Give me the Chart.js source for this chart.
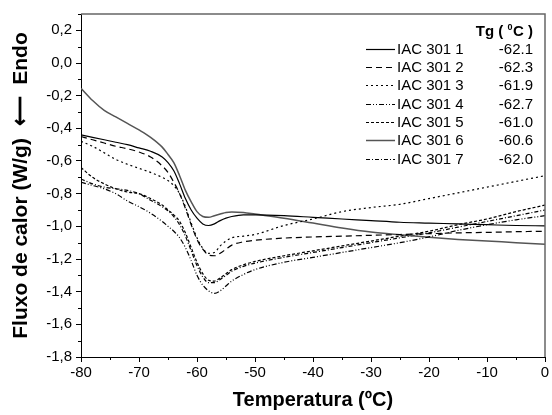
<!DOCTYPE html>
<html>
<head>
<meta charset="utf-8">
<script src="https://cdn.jsdelivr.net/npm/chart.js@4"></script>
<style>
  html, body { margin: 0; padding: 0; background: #fff; }
  #wrap { width: 552px; height: 415px; }
</style>
</head>
<body>
<div id="wrap"><canvas id="dsc"></canvas></div>
<script>
// temperature grid (°C) shared by all curves
const temps = [-80, -78, -76, -74, -72, -70, -68, -66, -65, -64, -63, -62, -61, -60, -59, -58,
               -57, -56, -55, -54, -52, -50, -45, -40, -35, -30, -25, -20, -15, -10, -5, 0];

// heat flow (W/g)
const iac1 = [-0.44, -0.455, -0.47, -0.485, -0.50, -0.52, -0.54, -0.575, -0.61, -0.66, -0.74, -0.83, -0.90, -0.95, -0.985, -0.995,
              -0.985, -0.965, -0.95, -0.94, -0.93, -0.93, -0.935, -0.945, -0.955, -0.965, -0.975, -0.98, -0.985, -0.99, -0.995, -0.997];
const iac2 = [-0.45, -0.47, -0.49, -0.51, -0.525, -0.545, -0.575, -0.63, -0.67, -0.73, -0.80, -0.89, -0.99, -1.08, -1.14, -1.175,
              -1.18, -1.165, -1.14, -1.115, -1.095, -1.085, -1.072, -1.065, -1.06, -1.055, -1.05, -1.045, -1.04, -1.037, -1.033, -1.03];
const iac3 = [-0.48, -0.51, -0.55, -0.59, -0.62, -0.645, -0.67, -0.70, -0.72, -0.75, -0.80, -0.88, -0.98, -1.07, -1.135, -1.165,
              -1.16, -1.12, -1.09, -1.07, -1.06, -1.05, -0.995, -0.955, -0.91, -0.885, -0.865, -0.83, -0.795, -0.76, -0.725, -0.69];
const iac4 = [-0.73, -0.75, -0.77, -0.80, -0.845, -0.88, -0.92, -0.97, -1.0, -1.03, -1.07, -1.13, -1.21, -1.30, -1.36, -1.395,
              -1.41, -1.395, -1.365, -1.335, -1.295, -1.265, -1.22, -1.19, -1.16, -1.13, -1.10, -1.065, -1.025, -0.99, -0.96, -0.935];
const iac5 = [-0.64, -0.70, -0.74, -0.77, -0.79, -0.80, -0.83, -0.87, -0.90, -0.93, -0.97, -1.04, -1.13, -1.22, -1.29, -1.33,
              -1.335, -1.315, -1.29, -1.265, -1.235, -1.215, -1.18, -1.15, -1.12, -1.09, -1.06, -1.03, -0.99, -0.955, -0.91, -0.87];
const iac6 = [-0.155, -0.23, -0.29, -0.33, -0.37, -0.41, -0.455, -0.515, -0.56, -0.61, -0.69, -0.78, -0.85, -0.91, -0.94, -0.945,
              -0.935, -0.925, -0.915, -0.912, -0.915, -0.925, -0.95, -0.98, -1.01, -1.035, -1.052, -1.067, -1.08, -1.09, -1.10, -1.11];
const iac7 = [-0.71, -0.74, -0.76, -0.77, -0.78, -0.80, -0.84, -0.88, -0.905, -0.94, -0.99, -1.06, -1.15, -1.24, -1.31, -1.345,
              -1.345, -1.325, -1.30, -1.275, -1.245, -1.225, -1.19, -1.16, -1.13, -1.10, -1.07, -1.04, -1.005, -0.97, -0.935, -0.90];

const seriesNames = ['IAC 301 1', 'IAC 301 2', 'IAC 301 3', 'IAC 301 4', 'IAC 301 5', 'IAC 301 6', 'IAC 301 7'];
const tgValues = ['-62.1', '-62.3', '-61.9', '-62.7', '-61.0', '-60.6', '-62.0'];

const xTicks = [-80, -70, -60, -50, -40, -30, -20, -10, 0];
const yTicks = [-1.8, -1.6, -1.4, -1.2, -1.0, -0.8, -0.6, -0.4, -0.2, 0.0, 0.2];

// line looks, one per series
const styles = [
  { color: '#000', dash: [], width: 1.2 },
  { color: '#000', dash: [6, 4], width: 1.2 },
  { color: '#000', dash: [2, 3], width: 1.2 },
  { color: '#000', dash: [5, 2, 1, 2, 1, 2], width: 1.2 },
  { color: '#000', dash: [3, 2], width: 1.2 },
  { color: '#555', dash: [], width: 1.5 },
  { color: '#000', dash: [4, 2, 1, 2], width: 1.2 }
];

const allSeries = [iac1, iac2, iac3, iac4, iac5, iac6, iac7];

const datasets = allSeries.map((vals, i) => ({
  label: seriesNames[i],
  data: vals.map((v, k) => ({ x: temps[k], y: v })),
  borderColor: styles[i].color,
  borderDash: styles[i].dash,
  borderWidth: styles[i].width,
  pointRadius: 0,
  fill: false,
  tension: 0.4,
  cubicInterpolationMode: 'monotone'
}));

const FONT = 'Liberation Sans, Arial, sans-serif';

// minor ticks, frame and the inset legend
const decor = {
  id: 'decor',
  afterDraw(chart) {
    const { ctx, chartArea: a, scales: { x, y } } = chart;
    ctx.save();
    ctx.strokeStyle = '#000';
    ctx.lineWidth = 1;
    ctx.setLineDash([]);
    ctx.beginPath();
    for (let t = -75; t < 0; t += 10) {
      const px = Math.round(x.getPixelForValue(t)) + 0.5;
      ctx.moveTo(px, a.bottom); ctx.lineTo(px, a.bottom + 3);
    }
    for (let v = -1.7; v < 0.35; v += 0.2) {
      const py = Math.round(y.getPixelForValue(v)) + 0.5;
      ctx.moveTo(a.left, py); ctx.lineTo(a.left - 3, py);
    }
    ctx.stroke();

    // top and right frame
    ctx.strokeStyle = '#666';
    ctx.lineWidth = 1.5;
    ctx.beginPath();
    ctx.moveTo(a.left, a.top); ctx.lineTo(a.right, a.top); ctx.lineTo(a.right, a.bottom);
    ctx.stroke();

    // legend
    const rowTop = 43, rowGap = 18.35;
    ctx.fillStyle = '#000';
    ctx.textBaseline = 'alphabetic';
    ctx.font = 'bold 15px ' + FONT;
    ctx.textAlign = 'right';
    const rx = 533;
    const hb = 36;
    const w2 = ctx.measureText('C )').width;
    ctx.fillText('C )', rx, hb);
    ctx.font = 'bold 9px ' + FONT;
    const w1 = ctx.measureText('0').width;
    ctx.fillText('0', rx - w2 - 0.5, hb - 6);
    ctx.font = 'bold 15px ' + FONT;
    ctx.fillText('Tg ( ', rx - w2 - w1 - 0.5, hb);

    ctx.font = '15px ' + FONT;
    seriesNames.forEach((name, i) => {
      const base = rowTop + 10.5 + i * rowGap;
      ctx.textAlign = 'left';
      ctx.fillText(name, 397, base);
      ctx.textAlign = 'right';
      ctx.fillText(tgValues[i], rx, base);
      ctx.strokeStyle = styles[i].color;
      ctx.lineWidth = styles[i].width;
      ctx.setLineDash(styles[i].dash);
      ctx.beginPath();
      const ly = Math.round(base - 5) + 0.5;
      ctx.moveTo(366, ly); ctx.lineTo(395, ly);
      ctx.stroke();
    });
    ctx.restore();
  }
};

new Chart(document.getElementById('dsc'), {
  type: 'line',
  data: { datasets },
  options: {
    responsive: true,
    maintainAspectRatio: false,
    animation: false,
    layout: { padding: { top: 14, right: 7, left: 0, bottom: 0 } },
    plugins: { legend: { display: false }, tooltip: { enabled: false } },
    scales: {
      x: {
        type: 'linear',
        min: -80,
        max: 0,
        afterBuildTicks: s => { s.ticks = xTicks.map(v => ({ value: v })); },
        afterFit: s => { s.height = 58; },
        grid: { display: true, drawOnChartArea: false, drawTicks: true, tickLength: 5, color: '#000' },
        border: { display: true, color: '#000', width: 1 },
        ticks: { color: '#000', padding: 2, font: { family: FONT, size: 15 }, maxRotation: 0 },
        title: {
          display: true,
          text: 'Temperatura (ºC)',
          color: '#000',
          font: { family: FONT, size: 20, weight: 'bold' },
          padding: { top: 0, bottom: 3 }
        }
      },
      y: {
        type: 'linear',
        min: -1.8,
        max: 0.3,
        afterBuildTicks: s => { s.ticks = yTicks.map(v => ({ value: v })); },
        afterFit: s => { s.width = 81; },
        grid: { display: true, drawOnChartArea: false, drawTicks: true, tickLength: 5, color: '#000' },
        border: { display: true, color: '#000', width: 1 },
        ticks: {
          color: '#000',
          padding: 4,
          font: { family: FONT, size: 15 },
          callback: v => (Math.abs(v) < 1e-9 ? 0 : v).toFixed(1).replace('.', ',')
        },
        title: {
          display: true,
          text: 'Fluxo de calor (W/g)  \u27F5  Endo',
          color: '#000',
          font: { family: FONT, size: 21, weight: 'bold' },
          padding: { top: 9, bottom: 0 }
        }
      }
    }
  },
  plugins: [decor]
});
</script>
</body>
</html>
